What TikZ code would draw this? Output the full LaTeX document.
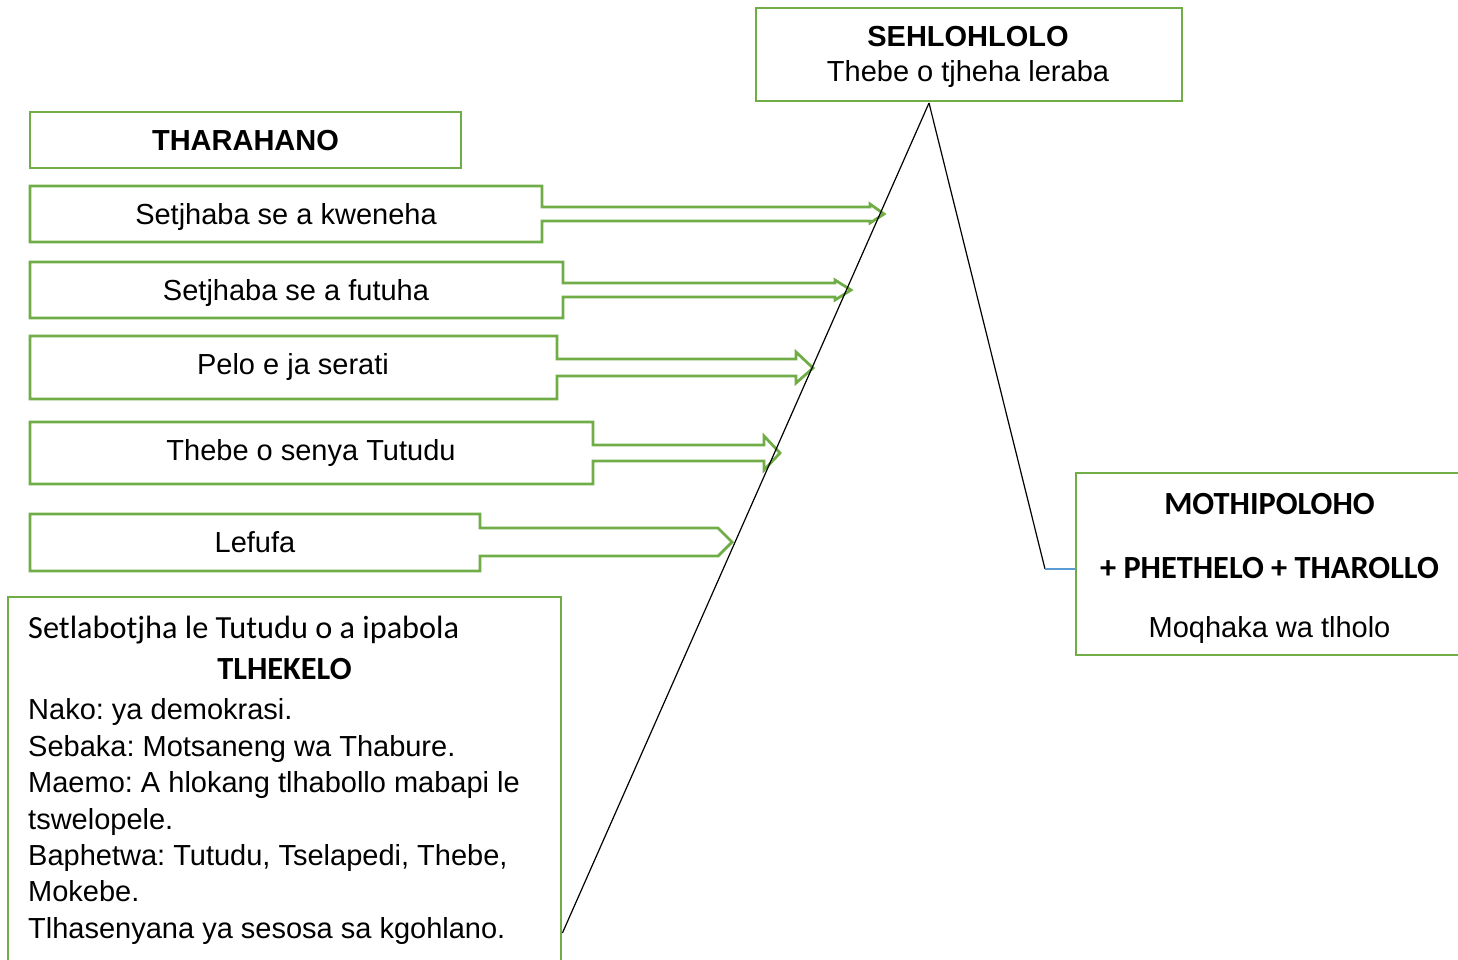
\documentclass[tikz,border=0pt]{standalone}
\usepackage{fontspec}
\setmainfont{Liberation Sans}
\newfontfamily\calibri{Carlito}
\definecolor{grn}{HTML}{70AD47}
\definecolor{blu}{HTML}{5B9BD5}
\frenchspacing
\begin{document}
\frenchspacing
\begin{tikzpicture}[x=1pt,y=-1pt,
  box/.style={draw=grn,line width=2.8pt,inner sep=0pt},
  blockarrow/.style={draw=grn,line width=2.8pt,line join=miter},
  txt/.style={inner sep=0pt,anchor=base,font=\fontsize{29}{36}\selectfont},
  ltxt/.style={inner sep=0pt,anchor=base west,font=\fontsize{29}{36}\selectfont},
  cal/.style={font=\fontsize{32.3}{38}\selectfont\calibri},
  calb/.style={font=\fontsize{32.3}{38}\selectfont\calibri\bfseries},
  conn/.style={draw=black,line width=1.2pt}]
\useasboundingbox (0,0) rectangle (1458,959);

% top box
\node[box,minimum width=426pt,minimum height=93pt] (top) at (969,54.5) {};
\node[txt,font=\fontsize{29}{36}\selectfont\bfseries] (topa) at (968,46) {SEHLOHLOLO};
\node[txt] (topb) at (968,81.5) {Thebe o tjheha leraba};

% THARAHANO
\node[box,minimum width=431pt,minimum height=56pt] (thar) at (245.5,140) {};
\node[txt,font=\fontsize{29}{36}\selectfont\bfseries] (thart) at (245.5,150) {THARAHANO};

% block arrows
\draw[blockarrow] (30,186) -- (542,186) -- (542,207) -- (870,207) -- (870,204) -- (884,214)
  -- (870,223) -- (870,221) -- (542,221) -- (542,242) -- (30,242) -- cycle;
\node[txt] (a1) at (286,224) {Setjhaba se a kweneha};

\draw[blockarrow] (30,262) -- (563,262) -- (563,283) -- (835,283) -- (835,280) -- (851,290)
  -- (835,300) -- (835,297) -- (563,297) -- (563,318) -- (30,318) -- cycle;
\node[txt] (a2) at (296,300) {Setjhaba se a futuha};

\draw[blockarrow] (30,336) -- (557,336) -- (557,359) -- (796,359) -- (796,352) -- (813,368)
  -- (796,383) -- (796,376) -- (557,376) -- (557,399) -- (30,399) -- cycle;
\node[txt] (a3) at (293,374) {Pelo e ja serati};

\draw[blockarrow] (30,422) -- (593,422) -- (593,445) -- (764,445) -- (764,436) -- (780,453)
  -- (764,470) -- (764,461) -- (593,461) -- (593,484) -- (30,484) -- cycle;
\node[txt] (a4) at (311,460) {Thebe o senya Tutudu};

\draw[blockarrow] (30,514) -- (480,514) -- (480,528) -- (718,528) -- (732,542)
  -- (718,556) -- (480,556) -- (480,571) -- (30,571) -- cycle;
\node[txt] (a5) at (255,552) {Lefufa};

% setting box
\node[box,minimum width=553pt,minimum height=380pt] (setting) at (284.5,787) {};
\node[ltxt,cal] (s1) at (28,638) {Setlabotjha le Tutudu o a ipabola};
\node[txt,calb] (s2) at (284.5,679) {TLHEKELO};
\node[ltxt] (s3) at (28,719) {Nako: ya demokrasi.};
\node[ltxt] (s4) at (28,756) {Sebaka: Motsaneng wa Thabure.};
\node[ltxt] (s5) at (28,792.5) {Maemo: A hlokang tlhabollo mabapi le};
\node[ltxt] (s6) at (28,829) {tswelopele.};
\node[ltxt] (s7) at (28,865) {Baphetwa: Tutudu, Tselapedi, Thebe,};
\node[ltxt] (s8) at (28,901) {Mokebe.};
\node[ltxt] (s9) at (28,938) {Tlhasenyana ya sesosa sa kgohlano.};

% climax/resolution box
\node[box,minimum width=387pt,minimum height=182pt] (climax) at (1269.5,564) {};
\node[txt,calb] (c1) at (1269.5,514.5) {MOTHIPOLOHO};
\node[txt,calb] (c2) at (1269.5,578.5) {+ PHETHELO + THAROLLO};
\node[txt] (c3) at (1269.5,637) {Moqhaka wa tlholo};

% plot lines
\coordinate (apex) at (929,103);
\coordinate (knee) at (1045,569);
\coordinate (ylow) at (0,933);
\draw[conn] (apex) -- (setting.east |- ylow);
\draw[conn] (apex) -- (knee);
\draw[draw=blu,line width=1.1pt] (knee) -- (knee -| climax.west);
\end{tikzpicture}
\end{document}
